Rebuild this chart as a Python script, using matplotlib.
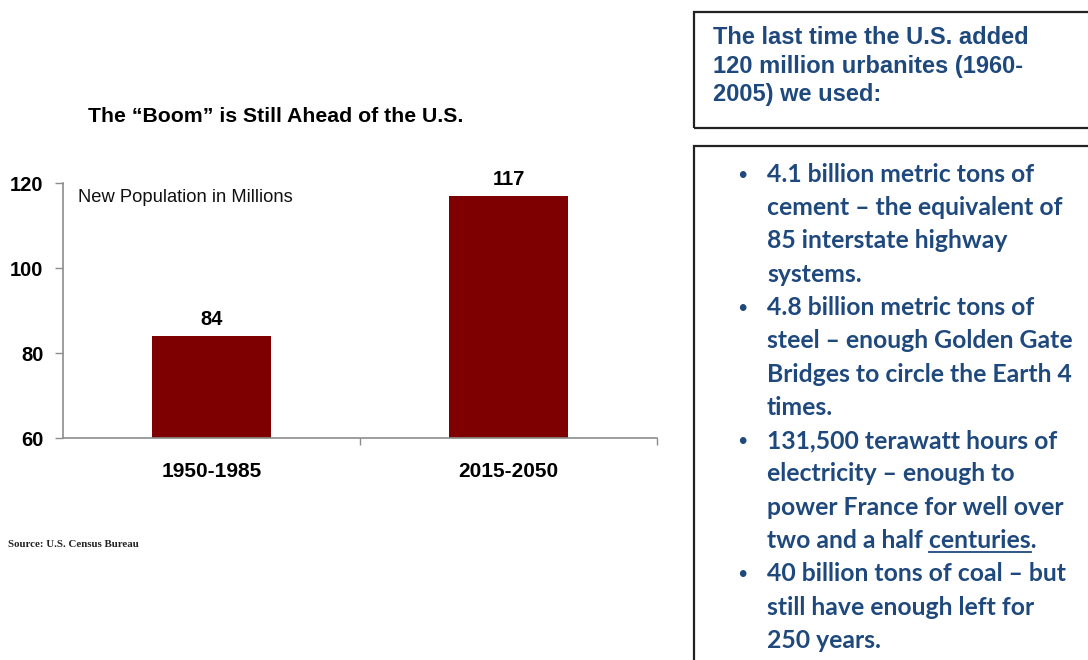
import matplotlib
matplotlib.use('Agg')
import matplotlib.pyplot as plt
from matplotlib.patches import Rectangle
from matplotlib.lines import Line2D

# ---------------- data ----------------
categories = ['1950-1985', '2015-2050']
values = [84, 117]
yticks = [60, 80, 100, 120]

chart_title = 'The \u201cBoom\u201d is Still Ahead of the U.S.'
inner_label = 'New Population in Millions'
source_text = 'Source: U.S. Census Bureau'
header_lines = ['The last time the U.S. added',
                '120 million urbanites (1960-',
                '2005) we used:']
bullets = [
    ['4.1 billion metric tons of', 'cement \u2013 the equivalent of',
     '85 interstate highway', 'systems.'],
    ['4.8 billion metric tons of', 'steel \u2013 enough Golden Gate',
     'Bridges to circle the Earth 4', 'times.'],
    ['131,500 terawatt hours of', 'electricity \u2013 enough to',
     'power France for well over', 'two and a half centuries.'],
    ['40 billion tons of coal \u2013 but', 'still have enough left for',
     '250 years.'],
]
underline_word = 'centuries'

# ---------------- figure ----------------
W, H = 1088, 660
fig = plt.figure(figsize=(W / 100, H / 100), dpi=100)
fig.patch.set_facecolor('white')


def fx(px):
    return px / W


def fy(py):
    return 1 - py / H


BLUE = '#1f497d'
MAROON = '#7f0000'
GRAY = '#8c8c8c'
SANS = ['Liberation Sans', 'DejaVu Sans']

# chart axes
ax = fig.add_axes([fx(63), fy(438), (657 - 63) / W, (438 - 183) / H])
xpos = list(range(len(categories)))
ax.bar(xpos, values, width=0.40, color=MAROON, zorder=2)
ax.set_xlim(-0.5, 1.5)
ax.set_ylim(60, 120)
for s in ['top', 'right']:
    ax.spines[s].set_visible(False)
for s in ['left', 'bottom']:
    ax.spines[s].set_color(GRAY)
    ax.spines[s].set_linewidth(1.2)

ax.set_yticks(yticks)
ax.set_yticklabels([str(t) for t in yticks], fontfamily=SANS,
                   fontweight='bold', fontsize=14.5)
ax.tick_params(axis='y', direction='out', length=6, width=1, color=GRAY,
               pad=8)
ax.set_xticks(xpos)
ax.set_xticklabels(categories, fontfamily=SANS, fontweight='bold',
                   fontsize=15)
ax.tick_params(axis='x', which='major', length=0, pad=17)
ax.set_xticks([0.5, 1.5], minor=True)
ax.tick_params(axis='x', which='minor', direction='out', length=5, width=1,
               color=GRAY)

for xi, v in zip(xpos, values):
    ax.annotate(str(v), (xi, v), xytext=(0, 5), textcoords='offset points',
                ha='center', va='bottom', fontfamily=SANS,
                fontweight='bold', fontsize=14.5)

fig.text(fx(276), fy(122), chart_title, ha='center', va='baseline',
         fontfamily=SANS, fontweight='bold', fontsize=15.3)
fig.text(fx(78), fy(202), inner_label, ha='left', va='baseline',
         fontfamily=SANS, fontsize=13.2, color='#111111')
fig.text(fx(8), fy(547), source_text, ha='left', va='baseline',
         fontfamily=['Liberation Serif', 'DejaVu Serif'], fontweight='bold',
         fontsize=7.8, color='#222222')

# right boxes
for (x0, y0, x1, y1) in [(694, 12, 1100, 128), (694, 146, 1100, 700)]:
    fig.patches.append(Rectangle((fx(x0), fy(y1)), (x1 - x0) / W,
                                 (y1 - y0) / H, transform=fig.transFigure,
                                 fill=False, edgecolor='#222222',
                                 linewidth=1.6, clip_on=False))

for i, line in enumerate(header_lines):
    fig.text(fx(713), fy(44 + 28.5 * i), line, ha='left', va='baseline',
             fontfamily=SANS, fontweight='bold', fontsize=17, color=BLUE)

BFONT = ['Lato', 'DejaVu Sans']
BSIZE = 17.8
line_idx = 0
base0, step = 181.7, 33.3
texts_to_underline = []
for group in bullets:
    for j, line in enumerate(group):
        yb = base0 + step * line_idx
        if j == 0:
            fig.text(fx(737), fy(yb - 2), '\u2022', ha='left', va='baseline',
                     fontfamily=BFONT, fontsize=13, color=BLUE)
        t = fig.text(fx(767), fy(yb), line, ha='left', va='baseline',
                     fontfamily=BFONT, fontweight='bold', fontsize=BSIZE,
                     color=BLUE)
        if underline_word in line:
            texts_to_underline.append((t, line, yb))
        line_idx += 1

fig.canvas.draw()
renderer = fig.canvas.get_renderer()
for t, line, yb in texts_to_underline:
    prefix = line[:line.index(underline_word) + len(underline_word)]
    tmp_full = fig.text(fx(767), fy(yb), prefix, ha='left', va='baseline',
                        fontfamily=BFONT, fontweight='bold', fontsize=BSIZE)
    tmp_word = fig.text(fx(767), fy(yb), underline_word, ha='left',
                        va='baseline', fontfamily=BFONT, fontweight='bold',
                        fontsize=BSIZE)
    bb_full = tmp_full.get_window_extent(renderer)
    bb_word = tmp_word.get_window_extent(renderer)
    tmp_full.remove()
    tmp_word.remove()
    x_end = bb_full.x1
    x_start = x_end - bb_word.width
    yline = fy(yb + 3.5)
    fig.lines.append(Line2D([x_start / W, x_end / W], [yline, yline],
                            transform=fig.transFigure, color=BLUE,
                            linewidth=1.3))

fig.savefig('out.png', dpi=100, facecolor='white')
